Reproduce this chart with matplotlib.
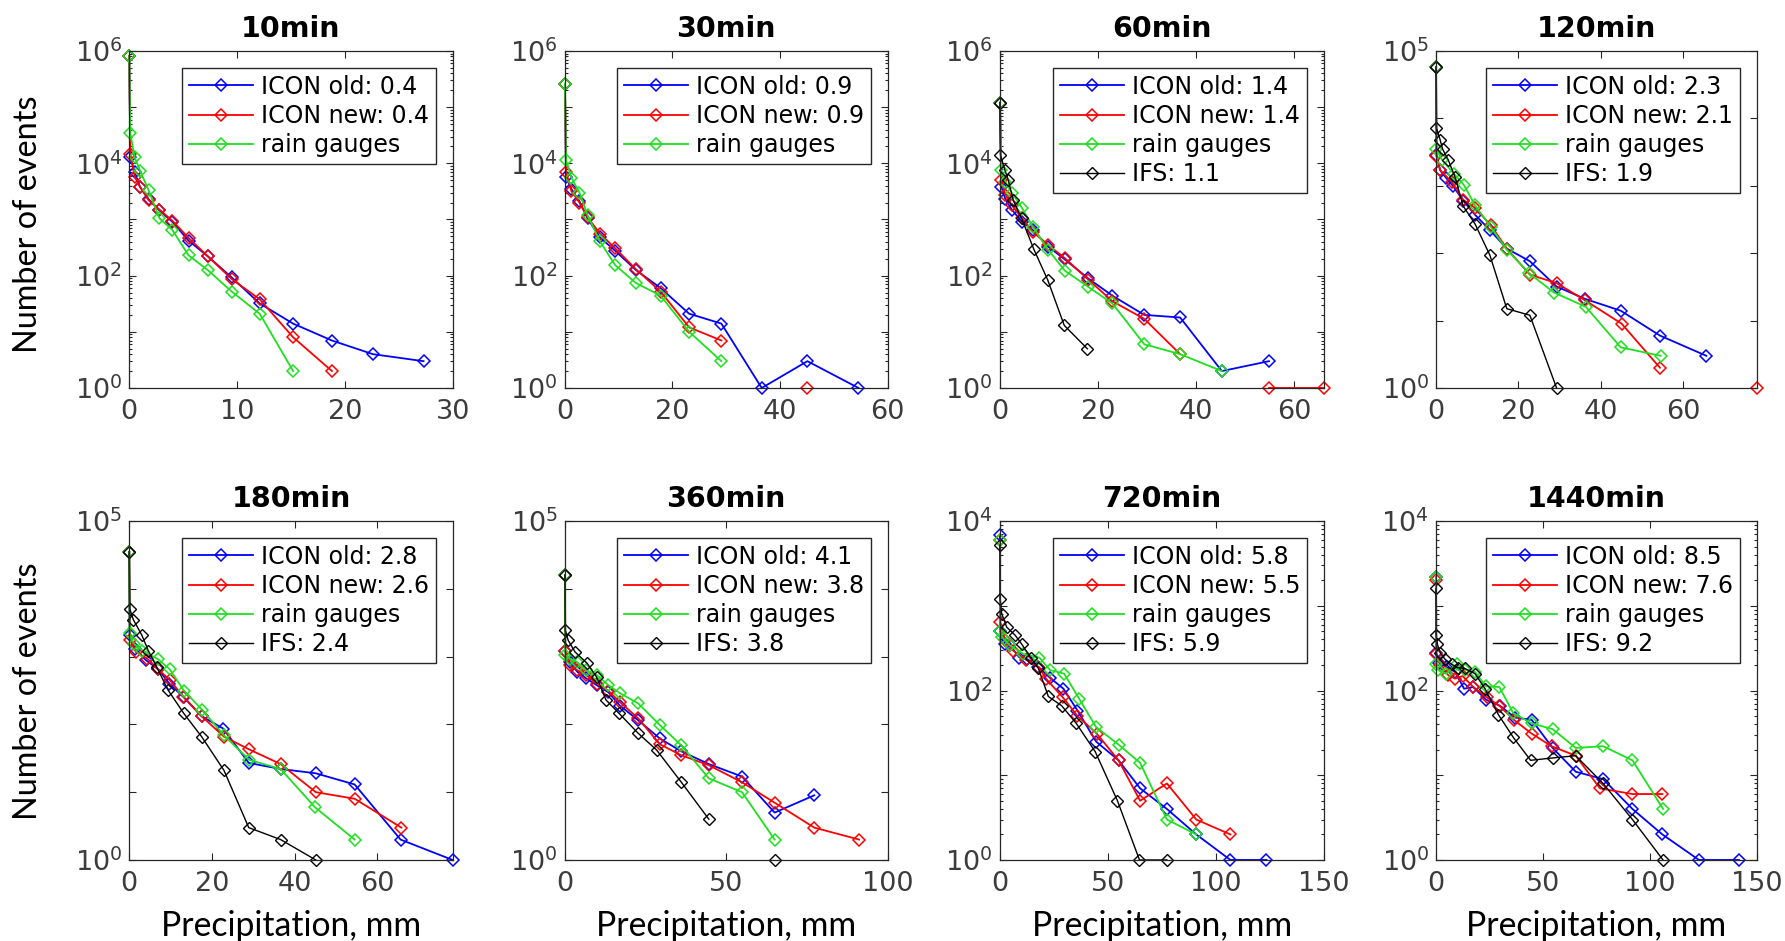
import numpy as np
import matplotlib
matplotlib.use('Agg')
import matplotlib.pyplot as plt
from matplotlib.ticker import FixedLocator, FixedFormatter, LogLocator, NullLocator

nan = np.nan

# ---------------- panel settings ----------------
titles = ['10min', '30min', '60min', '120min', '180min', '360min', '720min', '1440min']
score_old = ['0.4', '0.9', '1.4', '2.3', '2.8', '4.1', '5.8', '8.5']
score_new = ['0.4', '0.9', '1.4', '2.1', '2.6', '3.8', '5.5', '7.6']
score_ifs = [None, None, '1.1', '1.9', '2.4', '3.8', '5.9', '9.2']
x_max = [30, 60, 66, 78, 78.2, 100, 150, 150]
x_ticks = [[0, 10, 20, 30], [0, 20, 40, 60], [0, 20, 40, 60], [0, 20, 40, 60],
           [0, 20, 40, 60], [0, 50, 100], [0, 50, 100, 150], [0, 50, 100, 150]]
y_top_exp = [6, 6, 6, 5, 5, 5, 4, 4]
y_label_exps = [[0, 2, 4, 6], [0, 2, 4, 6], [0, 2, 4, 6], [0, 5], [0, 5], [0, 5], [0, 2, 4], [0, 2, 4]]
minor_on = [True, True, True, False, False, False, True, True]

# ---------------- data (number of events) ----------------
# 10 min
p10_x = [0, 0.1, 0.5, 1.0, 1.8, 2.8, 4.0, 5.5, 7.3, 9.5, 12.1, 15.2, 18.8, 22.6, 27.3]
p10_old = [8.1e5, 1.3e4, 7000, 3800, 2300, 1450, 910, 420, 220, 93, 32, 14, 7, 4, 3]
p10_new = [8.1e5, 1.45e4, 5800, 3800, 2200, 1500, 950, 470, 220, 87, 38, 8, 2]
p10_gauge = [8.1e5, 3.4e4, 1.3e4, 7400, 3300, 1050, 650, 230, 125, 52, 21, 2]

# 30 min
p30_x = [0, 0.2, 1.2, 2.7, 4.2, 6.5, 9.3, 13.2, 17.8, 23.1, 29.1, 36.6, 45.1, 54.6]
p30_old = [2.6e5, 5800, 3500, 2100, 1050, 480, 280, 126, 60, 21, 14, 1, 3, 1]
p30_new = [2.6e5, 7100, 3200, 2000, 1100, 560, 310, 130, 52, 12, 7, nan, 1]
p30_gauge = [2.6e5, 11500, 5500, 3000, 1200, 410, 155, 74, 44, 10, 3]

# 60 min
p60_x = [0, 0.3, 1.1, 2.4, 4.5, 6.7, 9.8, 13.2, 18.0, 22.9, 29.4, 36.7, 45.2, 54.8, 66.0]
p60_old = [1.2e5, 3800, 2300, 1500, 910, 650, 330, 195, 89, 44, 20, 18, 2, 3]
p60_new = [1.2e5, 5000, 2750, 1800, 1050, 600, 355, 205, 85, 35, 17, 4, nan, 1, 1]
p60_gauge = [1.2e5, 7600, 4700, 3000, 1600, 740, 290, 123, 63, 32, 6, 4, 2]
p60_ifs_x = [0, 0.1, 1.0, 1.7, 2.7, 4.4, 6.9, 9.7, 13.1, 17.8]
p60_ifs = [1.2e5, 1.4e4, 7600, 5000, 2200, 1050, 295, 85, 13, 5]

# 120 min
p120_old_x = [0, 0.1, 1.0, 2.5, 4.2, 6.6, 9.5, 13.1, 17.2, 22.8, 29.3, 36.2, 44.9, 54.4, 65.7]
p120_old = [5.8e4, 2900, 1700, 1300, 980, 600, 370, 220, 117, 76, 32, 21, 14, 6, 3]
p120_new_x = [0, 0.1, 1.0, 3.8, 6.6, 9.5, 13.3, 17.2, 22.8, 29.3, 36.2, 45.1, 54.4, 65.7, 77.9]
p120_new = [5.8e4, 2800, 1700, 1150, 620, 470, 260, 117, 48, 36, 20, 9, 2, nan, 1]
p120_gauge_x = [0, 0.1, 1.4, 4.4, 6.8, 9.5, 13.3, 17.2, 22.7, 28.7, 36.4, 44.9, 54.6]
p120_gauge = [5.8e4, 3500, 2450, 1500, 1020, 510, 245, 112, 50, 26, 16, 4, 3]
p120_ifs_x = [0, 0.1, 1.0, 1.6, 3.0, 4.6, 6.6, 9.5, 13.1, 17.2, 22.8, 29.3]
p120_ifs = [5.8e4, 7200, 4800, 3500, 2400, 1350, 500, 270, 93, 15, 12, 1]

# 180 min
p180_old_x = [0, 0.1, 1.4, 4.0, 7.0, 9.7, 13.2, 17.5, 22.7, 28.9, 36.6, 45.1, 54.5, 65.6, 78.2]
p180_old = [3.5e4, 2100, 1300, 890, 650, 400, 250, 132, 87, 27, 22, 19, 13, 2, 1]
p180_new_x = [0, 0.2, 1.6, 4.4, 7.0, 9.8, 13.1, 17.5, 22.9, 28.9, 36.6, 45.1, 54.5, 65.8]
p180_new = [3.5e4, 1750, 1170, 930, 650, 450, 257, 132, 66, 43, 26, 10, 8, 3]
p180_gauge_x = [0, 0.1, 1.1, 3.2, 7.0, 9.8, 13.2, 17.7, 22.9, 29.0, 36.6, 44.9, 54.5]
p180_gauge = [3.5e4, 2200, 1550, 1230, 910, 650, 316, 162, 69, 30, 22, 6, 2]
p180_ifs_x = [0, 0.1, 1.0, 3.0, 4.6, 6.6, 9.4, 13.2, 17.5, 22.9, 28.9, 36.6, 45.1]
p180_ifs = [3.5e4, 5100, 3500, 2100, 1230, 710, 320, 145, 66, 21, 3, 2, 1]

# 360 min
p360_x = [0, 0.1, 1.5, 3.8, 6.5, 9.8, 13.4, 17.0, 22.7, 29.4, 36.1, 44.6, 54.9, 65.0, 77.3, 91.2]
p360_old = [1.6e4, 1200, 830, 600, 480, 380, 300, 190, 115, 62, 40, 26, 17, 5, 9]
p360_new = [1.6e4, 1230, 740, 630, 540, 400, 316, 214, 123, 51, 35, 25, 14, 7, 3, 2]
p360_gauge = [1.6e4, 1050, 930, 830, 630, 540, 380, 290, 204, 98, 49, 16, 10, 2]
p360_ifs_x = [0, 0.1, 1.0, 3.1, 6.9, 9.8, 12.7, 16.8, 22.7, 28.4, 36.1, 44.6, 54.9, 65.0]
p360_ifs = [1.6e4, 2450, 1740, 1175, 795, 500, 230, 145, 74, 42, 14, 4, nan, 1]

# 720 min
p720_old_x = [0, 0.1, 2.3, 4.6, 9.0, 12.7, 17.8, 23.2, 29.4, 35.9, 44.5, 54.9, 64.9, 77.3, 90.9, 106.7, 123.4]
p720_old = [6800, 500, 355, 340, 245, 234, 190, 141, 105, 58, 25, 15, 7, 4, 2, 1, 1]
p720_new_x = [0, 0.1, 2.3, 6.2, 12.1, 18.2, 21.3, 29.1, 35.9, 44.8, 54.9, 64.9, 77.3, 90.9, 106.7]
p720_new = [6000, 650, 390, 295, 230, 186, 138, 83, 50, 31, 15, 5, 8, 3, 2]
p720_gauge_x = [0, 0.1, 0.8, 4.6, 10.8, 18.2, 23.2, 29.7, 36.8, 44.5, 54.9, 64.9, 77.3, 90.9]
p720_gauge = [5900, 510, 430, 340, 270, 245, 174, 158, 79, 37, 23, 14, 3, 2]
p720_ifs_x = [0, 0.1, 0.8, 3.1, 7.0, 10.0, 14.2, 17.8, 22.4, 28.6, 35.3, 44.1, 54.4, 64.6, 77.3]
p720_ifs = [5200, 1200, 810, 560, 450, 355, 245, 182, 85, 66, 41, 19, 5, 1, 1]

# 1440 min
p1440_old_x = [0, 0.1, 1.6, 4.7, 8.9, 13.1, 17.4, 23.3, 29.9, 36.9, 44.7, 54.5, 65.3, 78.1, 91.8, 105.8, 122.9, 141.6]
p1440_old = [2200, 280, 214, 190, 166, 105, 110, 78, 66, 48, 45, 21, 11, 9, 4, 2, 1, 1]
p1440_new_x = [0, 0.1, 2.0, 5.8, 8.9, 12.4, 17.4, 23.7, 29.6, 36.4, 44.7, 54.0, 65.3, 76.6, 91.8, 105.8]
p1440_new = [2000, 270, 200, 151, 138, 148, 110, 83, 66, 45, 31, 22, 17, 7, 6, 6]
p1440_gauge_x = [0, 0.1, 1.1, 4.7, 9.6, 13.5, 18.2, 23.3, 29.6, 36.1, 44.7, 54.5, 65.3, 78.1, 91.8, 106.1]
p1440_gauge = [2200, 204, 174, 158, 204, 175, 166, 112, 110, 54, 41, 35, 21, 22, 15, 4]
p1440_ifs_x = [0, 0.1, 0.6, 1.9, 4.2, 7.3, 10.4, 13.5, 18.2, 22.9, 29.1, 36.1, 44.2, 54.5, 65.3, 78.1, 91.8, 106.1]
p1440_ifs = [1600, 450, 355, 280, 234, 204, 186, 182, 158, 105, 52, 28, 15, 16, 17, 8, 3, 1]

panels = [
    dict(old=(p10_x, p10_old), new=(p10_x, p10_new), gauge=(p10_x, p10_gauge), ifs=None),
    dict(old=(p30_x, p30_old), new=(p30_x, p30_new), gauge=(p30_x, p30_gauge), ifs=None),
    dict(old=(p60_x, p60_old), new=(p60_x, p60_new), gauge=(p60_x, p60_gauge), ifs=(p60_ifs_x, p60_ifs)),
    dict(old=(p120_old_x, p120_old), new=(p120_new_x, p120_new), gauge=(p120_gauge_x, p120_gauge), ifs=(p120_ifs_x, p120_ifs)),
    dict(old=(p180_old_x, p180_old), new=(p180_new_x, p180_new), gauge=(p180_gauge_x, p180_gauge), ifs=(p180_ifs_x, p180_ifs)),
    dict(old=(p360_x, p360_old), new=(p360_x, p360_new), gauge=(p360_x, p360_gauge), ifs=(p360_ifs_x, p360_ifs)),
    dict(old=(p720_old_x, p720_old), new=(p720_new_x, p720_new), gauge=(p720_gauge_x, p720_gauge), ifs=(p720_ifs_x, p720_ifs)),
    dict(old=(p1440_old_x, p1440_old), new=(p1440_new_x, p1440_new), gauge=(p1440_gauge_x, p1440_gauge), ifs=(p1440_ifs_x, p1440_ifs)),
]

# ---------------- styling ----------------
C_OLD, C_NEW, C_GAUGE, C_IFS = '#0000ff', '#ff0000', '#1ee01e', '#000000'
AX_COLOR = '#262626'
TICK_LABEL_COLOR = '#3c3c3c'

lefts = [0.0724, 0.3165, 0.5602, 0.8045]
widths = [0.1812, 0.1807, 0.1815, 0.1798]
bottoms = [0.5877, 0.0861]
heights = [0.3581, 0.3602]

fig = plt.figure(figsize=(17.85, 9.41), dpi=100)
fig.patch.set_facecolor('white')

def draw(ax, xy, color, label, lw=1.3, ms=6.5, mew=1.1):
    x, y = xy
    x = np.asarray(x[:len(y)], dtype=float)
    y = np.asarray(y, dtype=float)
    ax.plot(x, y, color=color, lw=lw, marker='D', ms=ms, mfc='none', mec=color,
            mew=mew, label=label, clip_on=False)

for i, p in enumerate(panels):
    r, c = divmod(i, 4)
    ax = fig.add_axes([lefts[c], bottoms[r], widths[c], heights[r]])
    ax.set_yscale('log')
    draw(ax, p['old'], C_OLD, f'ICON old: {score_old[i]}')
    draw(ax, p['new'], C_NEW, f'ICON new: {score_new[i]}')
    draw(ax, p['gauge'], C_GAUGE, 'rain gauges')
    if p['ifs'] is not None:
        draw(ax, p['ifs'], C_IFS, f'IFS: {score_ifs[i]}', lw=1.0, ms=6.0, mew=1.0)

    top = y_top_exp[i]
    ax.set_xlim(0, x_max[i])
    ax.set_ylim(1, 10 ** top)
    ax.set_xticks(x_ticks[i])
    ax.set_xticklabels([str(t) for t in x_ticks[i]])
    decades = [10.0 ** k for k in range(top + 1)]
    ax.yaxis.set_major_locator(FixedLocator(decades))
    ax.yaxis.set_major_formatter(FixedFormatter(
        [rf'$10^{{{k}}}$' if k in y_label_exps[i] else '' for k in range(top + 1)]))
    if minor_on[i]:
        ax.yaxis.set_minor_locator(LogLocator(base=10, subs=np.arange(2, 10), numticks=30))
    else:
        ax.yaxis.set_minor_locator(NullLocator())
    ax.xaxis.set_minor_locator(NullLocator())
    ax.yaxis.set_minor_formatter(FixedFormatter([]))

    ax.tick_params(which='both', direction='in', top=True, right=True,
                   color=AX_COLOR, labelcolor=TICK_LABEL_COLOR, width=0.8)
    ax.tick_params(which='major', length=5, labelsize=19.5)
    ax.tick_params(which='minor', length=2.5)
    ax.tick_params(axis='x', pad=8)
    ax.tick_params(axis='y', pad=5)
    for s in ax.spines.values():
        s.set_color(AX_COLOR)
        s.set_linewidth(0.9)

    ax.set_title(titles[i], fontsize=20.5, fontweight='bold', pad=10, color='black')

    leg = ax.legend(loc='upper right', fontsize=17, frameon=True, fancybox=False,
                    edgecolor=AX_COLOR, framealpha=1, handlelength=2.7,
                    handletextpad=0.35, labelspacing=0.22, borderpad=0.3,
                    borderaxespad=0.7)
    leg.get_frame().set_linewidth(1.0)

# axis labels (sized to the lengths measured on the reference)
label_font = dict(family=['Lato', 'DejaVu Sans'], fontsize=22, color='black')
texts_y = [fig.text(0.0157, 0.762, 'Number of events', rotation=90, ha='center', va='center', **label_font),
           fig.text(0.0157, 0.265, 'Number of events', rotation=90, ha='center', va='center', **label_font)]
texts_x = []
for c in range(4):
    cx = lefts[c] + widths[c] / 2
    texts_x.append(fig.text(cx, 0.0055, 'Precipitation, mm', ha='center', va='baseline', **label_font))

renderer = fig.canvas.get_renderer()
for t in texts_y:
    h = t.get_window_extent(renderer).height
    t.set_fontsize(22 * 257.0 / h)
for t in texts_x:
    w = t.get_window_extent(renderer).width
    t.set_fontsize(22 * 260.0 / w)

fig.savefig('out.png', dpi=100, facecolor='white')
